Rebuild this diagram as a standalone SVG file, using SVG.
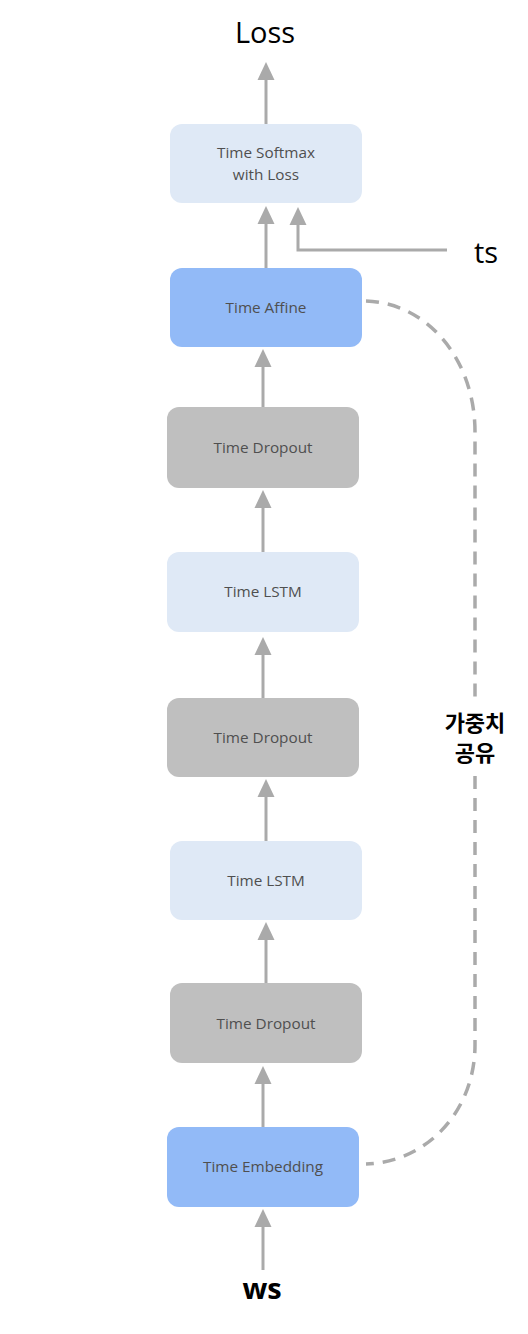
<svg xmlns="http://www.w3.org/2000/svg" width="528" height="1334" viewBox="0 0 528 1334">
<defs>
<style>
.box{stroke:none}
.lb{fill:#dfe9f6}
.bl{fill:#92baf7}
.gr{fill:#bfbfbf}
.t{font-family:"Open Sans","Noto Sans",sans-serif;font-size:15.3px;fill:#4f4f4f;text-anchor:middle}
.big{font-family:"Open Sans","Noto Sans",sans-serif;font-size:29px;fill:#000}
.ln{stroke:#aaaaaa;stroke-width:3;fill:none}
.hd{fill:#aaaaaa}
.dash{stroke:#aaaaaa;stroke-width:3.5;fill:none;stroke-dasharray:13 9}
.kr{font-family:"Noto Sans CJK KR",sans-serif;font-size:22px;font-weight:bold;fill:#000;text-anchor:middle}
</style>
</defs>
<g id="connectors">
<line class="ln" x1="266" y1="124" x2="266" y2="78"/>
<polygon class="hd" points="266,62 257.5,80 274.5,80"/>
<line class="ln" x1="266" y1="268" x2="266" y2="222"/>
<polygon class="hd" points="266,206 257.5,224 274.5,224"/>
<polyline class="ln" points="447,250 298,250 298,223"/>
<polygon class="hd" points="298,207 289.5,225 306.5,225"/>
<line class="ln" x1="263" y1="407" x2="263" y2="365"/>
<polygon class="hd" points="263,349 254.5,367 271.5,367"/>
<line class="ln" x1="263" y1="552" x2="263" y2="506"/>
<polygon class="hd" points="263,490 254.5,508 271.5,508"/>
<line class="ln" x1="263" y1="698" x2="263" y2="653"/>
<polygon class="hd" points="263,637 254.5,655 271.5,655"/>
<line class="ln" x1="266" y1="841" x2="266" y2="795"/>
<polygon class="hd" points="266,779 257.5,797 274.5,797"/>
<line class="ln" x1="266" y1="983" x2="266" y2="938"/>
<polygon class="hd" points="266,922 257.5,940 274.5,940"/>
<line class="ln" x1="263" y1="1128" x2="263" y2="1082"/>
<polygon class="hd" points="263,1066 254.5,1084 271.5,1084"/>
<line class="ln" x1="263" y1="1270" x2="263" y2="1226"/>
<polygon class="hd" points="263,1209 254.5,1227 271.5,1227"/>
<path class="dash" d="M366,301 C428,303 475,360 475,432 L475,700"/>
<path class="dash" d="M475,776 L475,1045 C475,1110 428,1162 366,1164"/>
</g>
<g id="softmax"><rect class="box lb" x="170" y="124" width="192" height="79" rx="12"/><text class="t" x="266" y="158">Time Softmax</text><text class="t" x="266" y="180">with Loss</text></g>
<g id="affine"><rect class="box bl" x="170" y="268" width="192" height="79" rx="12"/><text class="t" x="266" y="313">Time Affine</text></g>
<g id="dropout1"><rect class="box gr" x="167" y="407" width="192" height="81" rx="12"/><text class="t" x="263" y="453">Time Dropout</text></g>
<g id="lstm1"><rect class="box lb" x="167" y="552" width="192" height="80" rx="12"/><text class="t" x="263" y="597">Time LSTM</text></g>
<g id="dropout2"><rect class="box gr" x="167" y="698" width="192" height="79" rx="12"/><text class="t" x="263" y="743">Time Dropout</text></g>
<g id="lstm2"><rect class="box lb" x="170" y="841" width="192" height="79" rx="12"/><text class="t" x="266" y="886">Time LSTM</text></g>
<g id="dropout3"><rect class="box gr" x="170" y="983" width="192" height="80" rx="12"/><text class="t" x="266" y="1029">Time Dropout</text></g>
<g id="embedding"><rect class="box bl" x="167" y="1127" width="192" height="80" rx="12"/><text class="t" x="263" y="1172">Time Embedding</text></g>
<g id="loss"><text class="big" x="265" y="43" text-anchor="middle">Loss</text></g>
<g id="ts"><text class="big" x="474" y="263">ts</text></g>
<g id="ws"><text class="big" x="262" y="1299" text-anchor="middle" font-weight="bold">ws</text></g>
<g id="share"><text class="kr" x="475" y="731">가중치</text><text class="kr" x="475" y="761">공유</text></g>
</svg>
